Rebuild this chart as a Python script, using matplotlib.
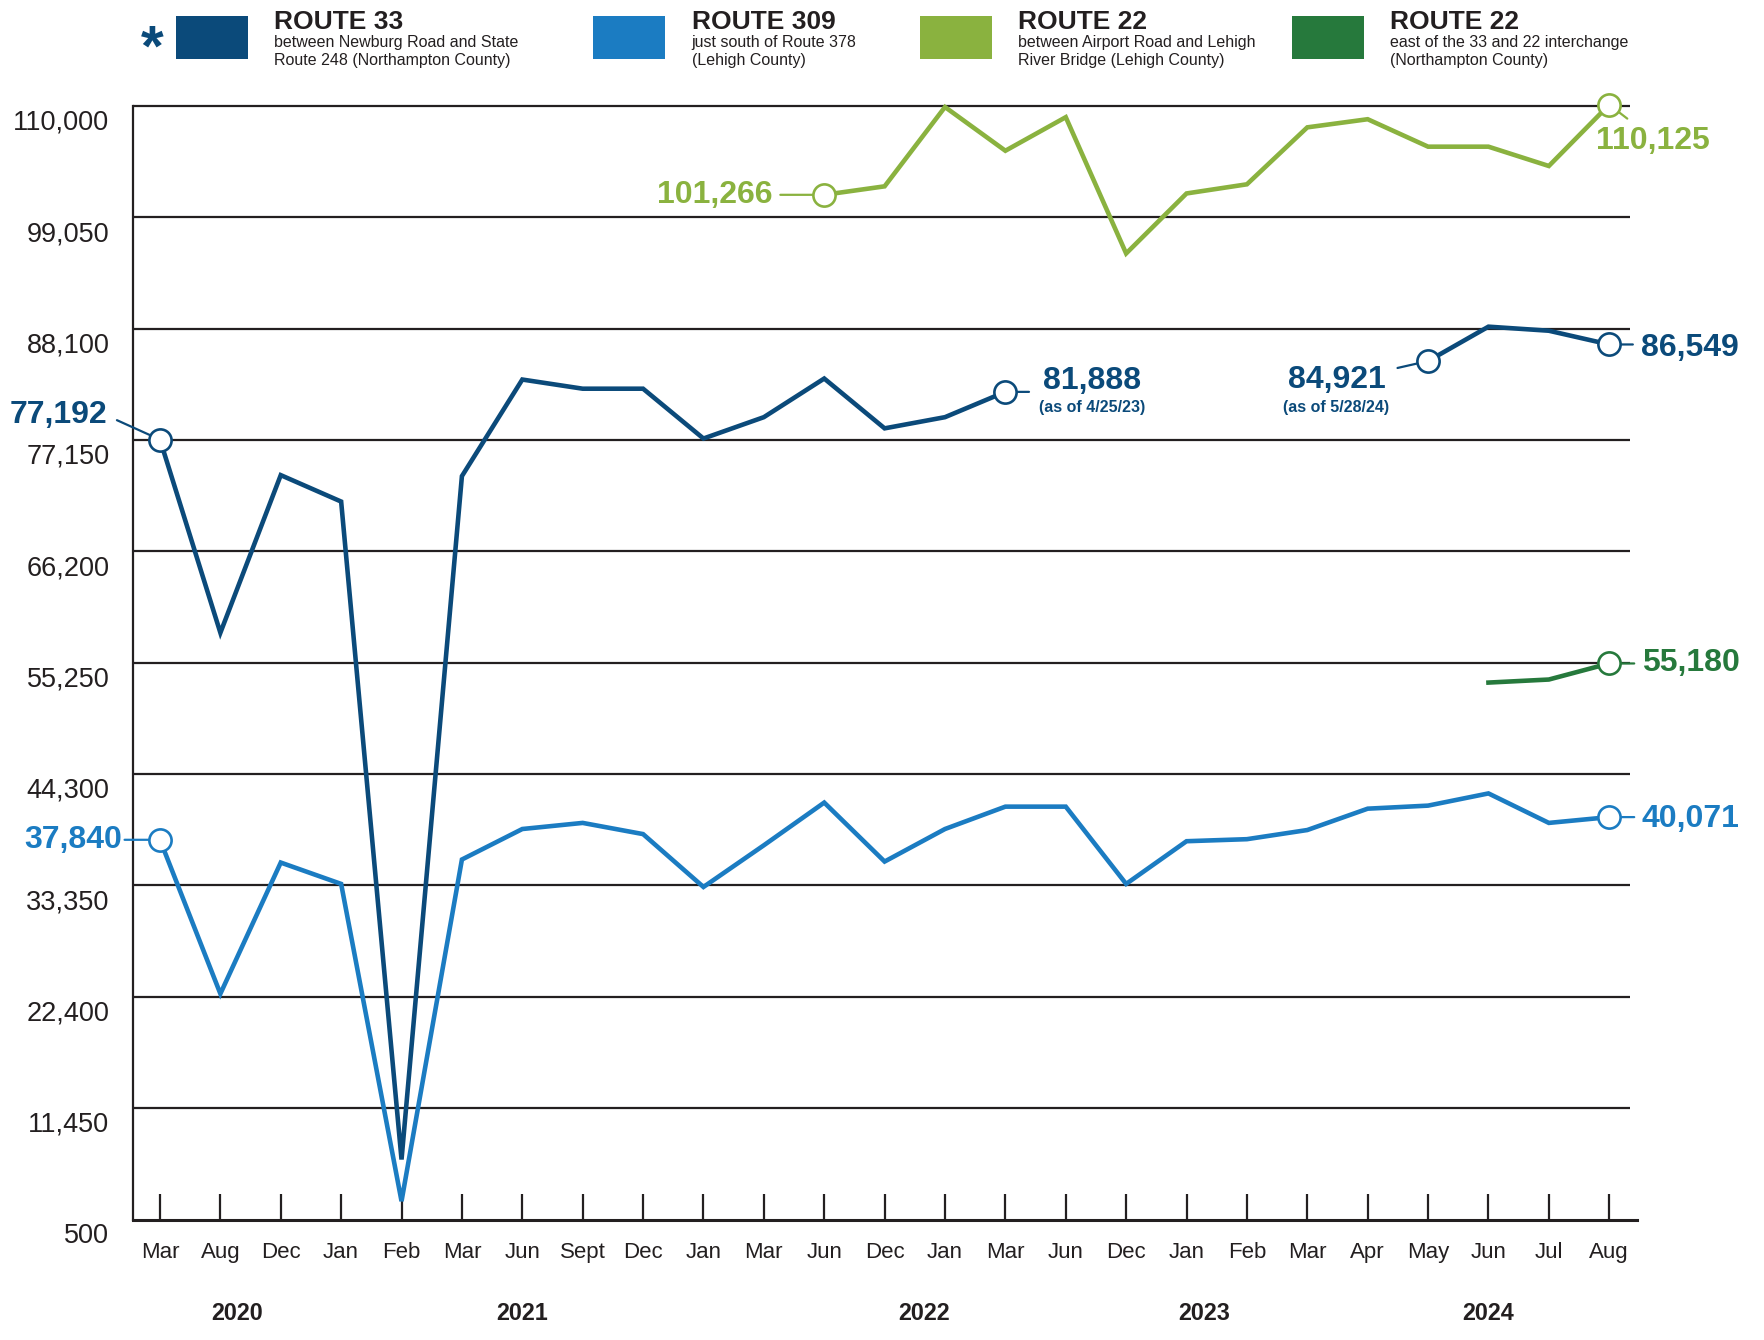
import numpy as np
import matplotlib.pyplot as plt
from matplotlib.patches import Rectangle

plt.rcParams['font.family'] = ['Liberation Sans', 'DejaVu Sans']

W, H = 1764, 1340
nan = np.nan

months = ['Mar', 'Aug', 'Dec', 'Jan', 'Feb', 'Mar', 'Jun', 'Sept', 'Dec', 'Jan',
          'Mar', 'Jun', 'Dec', 'Jan', 'Mar', 'Jun', 'Dec', 'Jan', 'Feb', 'Mar',
          'Apr', 'May', 'Jun', 'Jul', 'Aug']
years = ['2020', '2021', '2022', '2023', '2024']
year_pos = [1.28, 6.0, 12.65, 17.3, 22.0]

route33 = [77192, 58200, 73700, 71100, 6400, 73600, 83100, 82200, 82200, 77300,
           79400, 83200, 78300, 79400, 81888, nan, nan, nan, nan, nan,
           nan, 84921, 88300, 87900, 86549]
route309 = [37840, 22700, 35600, 33500, 2300, 35900, 38900, 39500, 38400, 33200,
            37300, 41500, 35700, 38900, 41100, 41100, 33500, 37700, 37900, 38800,
            40900, 41200, 42400, 39500, 40071]
route22_lehigh = [nan] * 11 + [101266, 102100, 109900, 105600, 108900, 95500, 101400,
                               102300, 107900, 108700, 106000, 106000, 104100, 110125]
route22_northampton = [nan] * 22 + [53300, 53600, 55180]

y_ticks = [500, 11450, 22400, 33350, 44300, 55250, 66200, 77150, 88100, 99050, 110000]

C33 = '#0b4a7a'
C309 = '#1b7cc2'
C22A = '#8ab23f'
C22B = '#26793c'
INK = '#231f20'

legend_titles = ['ROUTE 33', 'ROUTE 309', 'ROUTE 22', 'ROUTE 22']
legend_notes = [['between Newburg Road and State', 'Route 248 (Northampton County)'],
                ['just south of Route 378', '(Lehigh County)'],
                ['between Airport Road and Lehigh', 'River Bridge (Lehigh County)'],
                ['east of the 33 and 22 interchange', '(Northampton County)']]
legend_colors = [C33, C309, C22A, C22B]
legend_left = [175.5, 593, 920, 1291.5]

fig = plt.figure(figsize=(W / 100, H / 100), dpi=100)
ax = fig.add_axes([133 / W, 1 - 1219.5 / H, (1637 - 133) / W, (1219.5 - 106) / H])
ax.set_xlim(-0.447, 24.46)
ax.set_ylim(500, 110000)

x = np.arange(len(months))

# horizontal rules
ax.hlines(y_ticks[1:], -0.447, 24.35, color=INK, lw=1.6, zorder=1, clip_on=False)

for s in ['top', 'right']:
    ax.spines[s].set_visible(False)
ax.spines['left'].set_color(INK)
ax.spines['left'].set_linewidth(1.6)
ax.spines['bottom'].set_color(INK)
ax.spines['bottom'].set_linewidth(2.2)

ax.set_xticks(x, months)
ax.tick_params(axis='x', direction='in', length=19, width=1.6, pad=16.5,
               labelsize=16, colors=INK)
ax.set_yticks([])

for v in y_ticks:
    ax.annotate(f'{v:,}', xy=(0, v), xycoords=('axes fraction', 'data'),
                xytext=(-17, -12), textcoords='offset points',
                ha='right', va='center', fontsize=19.5, color=INK)

for yr, p in zip(years, year_pos):
    ax.annotate(yr, xy=(p, 0), xycoords=('data', 'axes fraction'),
                xytext=(0, -68), textcoords='offset points',
                ha='center', va='center', fontsize=16.8, fontweight='bold', color=INK)

# series lines
for series, col in [(route309, C309), (route33, C33),
                    (route22_lehigh, C22A), (route22_northampton, C22B)]:
    ax.plot(x, series, color=col, lw=3.3, solid_joinstyle='miter',
            zorder=3, clip_on=False)


def callout(series, i, col, dx, dy, ha, conn, note=None, note_xy=None, note_ha=None):
    val = series[i]
    ax.plot(i, val, 'o', ms=16, mfc='white', mec=col, mew=1.9, zorder=5, clip_on=False)
    ax.annotate('', xy=(i, val), xytext=conn, textcoords='offset points',
                annotation_clip=False,
                arrowprops=dict(arrowstyle='-', color=col, lw=1.6, shrinkA=0, shrinkB=8))
    ax.annotate(f'{val:,}', xy=(i, val), xytext=(dx, dy), textcoords='offset points',
                ha=ha, va='center', fontsize=23, fontweight='bold', color=col,
                annotation_clip=False)
    if note:
        ax.annotate(note, xy=(i, val), xytext=note_xy, textcoords='offset points',
                    ha=note_ha, va='center', fontsize=11.5, fontweight='bold', color=col,
                    annotation_clip=False)


callout(route33, 0, C33, -38, 17.8, 'right', (-31, 14))
callout(route309, 0, C309, -27, 0, 'right', (-25.5, 0))
callout(route22_lehigh, 11, C22A, -37, 0, 'right', (-31.6, 0))
callout(route33, 14, C33, 27, 8, 'left', (17, 0),
        '(as of 4/25/23)', (24.5, -11.3), 'left')
callout(route33, 21, C33, -66, -14, 'center', (-22, -5),
        '(as of 5/28/24)', (-66, -33.5), 'center')
callout(route33, 24, C33, 23, -2.4, 'left', (17, 0))
callout(route22_lehigh, 24, C22A, -9.5, -26, 'left', (13, -10))
callout(route22_northampton, 24, C22B, 23.5, 0, 'left', (18, 0))
callout(route309, 24, C309, 23, -1.6, 'left', (18, 0))


# legend across the top
def fx(px):
    return px / W


def fy(py):
    return 1 - py / H


fig.text(fx(152), fy(66), '*', fontsize=42, fontweight='bold', color=C33,
         ha='center', va='baseline')
for left, title, notes, col in zip(legend_left, legend_titles, legend_notes, legend_colors):
    fig.patches.append(Rectangle((fx(left), fy(58.5)), 72 / W, 42.5 / H,
                                 transform=fig.transFigure, color=col, lw=0))
    fig.text(fx(left + 98.5), fy(29), title, fontsize=19, fontweight='bold',
             color=INK, va='baseline')
    fig.text(fx(left + 98.5), fy(47), notes[0], fontsize=11.5, color=INK, va='baseline')
    fig.text(fx(left + 98.5), fy(65), notes[1], fontsize=11.5, color=INK, va='baseline')

fig.savefig('out.png', dpi=100)
